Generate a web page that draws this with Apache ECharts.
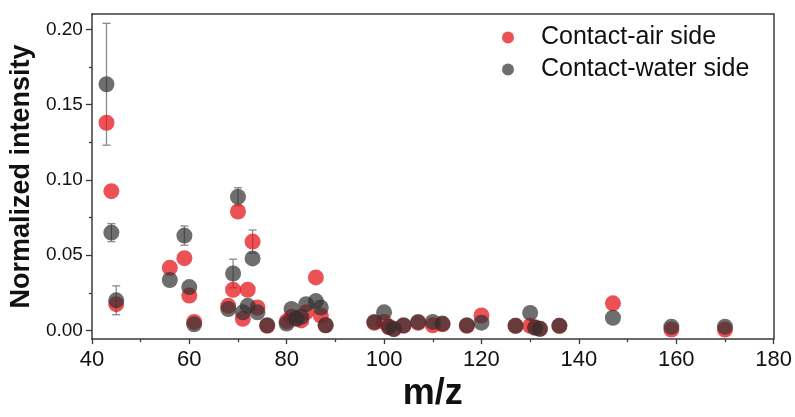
<!DOCTYPE html>
<html>
<head>
<meta charset="utf-8">
<script src="https://cdn.jsdelivr.net/npm/echarts@6/dist/echarts.min.js"></script>
<style>
html,body{margin:0;padding:0;background:#fff;}
#chart{width:795px;height:417px;}
</style>
</head>
<body>
<div id="chart"></div>
<script>
// m/z and normalized intensity, Contact-air side (red)
const airData = [
  [43,0.138],[44,0.0925],[45,0.0174],[56,0.0416],[59,0.048],[60,0.0232],[61,0.0056],
  [68,0.0163],[69,0.027],[70,0.079],[71,0.0077],[72,0.027],[73,0.059],[74,0.0152],[76,0.003],
  [80,0.006],[81,0.009],[82,0.008],[83,0.0066],[84,0.012],[86,0.0352],[87,0.0099],[88,0.0034],
  [98,0.005],[100,0.0056],[101,0.002],[102,0.001],[104,0.003],[107,0.005],[110,0.0034],[112,0.004],
  [117,0.003],[120,0.0099],[127,0.003],[130,0.003],[131,0.002],[132,0.001],[136,0.003],
  [147,0.018],[159,0.0006],[170,0.0006]
];
// Contact-water side (dark gray)
const waterData = [
  [43,0.1636],[44,0.065],[45,0.02],[56,0.0335],[59,0.063],[60,0.0288],[61,0.004],
  [68,0.0142],[69,0.0378],[70,0.0888],[71,0.012],[72,0.0163],[73,0.0478],[74,0.012],[76,0.0034],
  [80,0.0045],[81,0.0142],[82,0.0077],[83,0.009],[84,0.0174],[86,0.0195],[87,0.0152],[88,0.0034],
  [98,0.0056],[100,0.012],[101,0.0024],[102,0.0008],[104,0.0034],[107,0.0056],[110,0.0056],[112,0.0045],
  [117,0.0034],[120,0.0051],[127,0.003],[130,0.0116],[131,0.0017],[132,0.001],[136,0.003],
  [147,0.0084],[159,0.0024],[170,0.0024]
];
// error bars: [m/z, centre, half-width]
const airErr = [[73,0.059,0.0077]];
const waterErr = [[43,0.1636,0.0405],[44,0.065,0.006],[45,0.02,0.0096],[59,0.063,0.0064],[69,0.0378,0.0095],[70,0.0888,0.006]];
const yTicks = [0,0.05,0.10,0.15,0.20];
const yMinorTicks = [0.025,0.075,0.125,0.175];

const FONT = '"Liberation Sans", Arial, sans-serif';
const AXC = '#3a3a3a';

function errSeries(list){
  return {
    type:'custom',
    silent:true,
    z:1,
    data:list.map(d=>[d[0], d[1]-d[2], d[1]+d[2]]),
    encode:{x:0,y:[1,2]},
    renderItem:function(params, api){
      const x = api.value(0);
      const lo = api.coord([x, api.value(1)]);
      const hi = api.coord([x, api.value(2)]);
      const w = 4;
      const st = {stroke:'#8a8a8a', lineWidth:1.3};
      return {type:'group', children:[
        {type:'line', shape:{x1:lo[0],y1:lo[1],x2:hi[0],y2:hi[1]}, style:st},
        {type:'line', shape:{x1:lo[0]-w,y1:lo[1],x2:lo[0]+w,y2:lo[1]}, style:st},
        {type:'line', shape:{x1:hi[0]-w,y1:hi[1],x2:hi[0]+w,y2:hi[1]}, style:st}
      ]};
    }
  };
}

const chart = echarts.init(document.getElementById('chart'), null, {renderer:'canvas'});
const yMin = -0.0058, yMax = 0.2103;
chart.setOption({
  animation:false,
  backgroundColor:'#fff',
  textStyle:{fontFamily:FONT},
  grid:{left:91, right:20, top:14, bottom:66, containLabel:false},
  legend:{
    orient:'vertical',
    left:497, top:20,
    itemWidth:56, itemHeight:12, itemGap:7,
    icon:'circle',
    textStyle:{fontSize:25, fontFamily:FONT, color:'#111', lineHeight:24},
    data:['Contact-air side','Contact-water side']
  },
  xAxis:[{
    type:'value', min:40, max:180, interval:20,
    name:'m/z', nameLocation:'middle', nameGap:29,
    nameTextStyle:{fontSize:36, fontWeight:'bold', color:'#111', fontFamily:FONT},
    axisLine:{show:true, onZero:false, lineStyle:{color:AXC, width:1.5}},
    axisTick:{show:true, inside:false, length:5, lineStyle:{color:AXC, width:1.3}},
    minorTick:{show:true, splitNumber:2, length:3, lineStyle:{color:AXC, width:1.3}},
    axisLabel:{fontSize:22, color:'#111', margin:10, fontFamily:FONT},
    splitLine:{show:false}
  },{
    type:'value', min:40, max:180, position:'top',
    axisLine:{show:true, onZero:false, lineStyle:{color:AXC, width:1.5}},
    axisTick:{show:false}, axisLabel:{show:false}, splitLine:{show:false}
  }],
  yAxis:[{
    type:'value', min:yMin, max:yMax,
    name:'Normalized intensity', nameLocation:'middle', nameGap:52, nameRotate:90,
    nameTextStyle:{fontSize:27, fontWeight:'bold', color:'#111', fontFamily:FONT},
    axisLine:{show:true, onZero:false, lineStyle:{color:AXC, width:1.5}},
    axisTick:{show:true, length:6, customValues:yTicks, lineStyle:{color:AXC, width:1.3}},
    axisLabel:{fontSize:19, color:'#111', margin:9, fontFamily:FONT, customValues:yTicks,
      formatter:v=>v.toFixed(2)},
    splitLine:{show:false}
  },{
    type:'value', min:yMin, max:yMax, position:'left',
    axisLine:{show:false, onZero:false},
    axisTick:{show:true, length:3, customValues:yMinorTicks, lineStyle:{color:AXC, width:1.3}},
    axisLabel:{show:false}, splitLine:{show:false}
  },{
    type:'value', min:yMin, max:yMax, position:'right',
    axisLine:{show:true, onZero:false, lineStyle:{color:AXC, width:1.5}},
    axisTick:{show:false}, axisLabel:{show:false}, splitLine:{show:false}
  }],
  series:[
    errSeries(airErr),
    errSeries(waterErr),
    {
      name:'Contact-air side', type:'scatter', data:airData, symbolSize:16, z:2,
      itemStyle:{color:'rgba(230,22,28,0.93)'}
    },
    {
      name:'Contact-water side', type:'scatter', data:waterData, symbolSize:16, z:3,
      itemStyle:{color:'rgba(48,48,48,0.88)'}
    }
  ]
});
</script>
</body>
</html>
